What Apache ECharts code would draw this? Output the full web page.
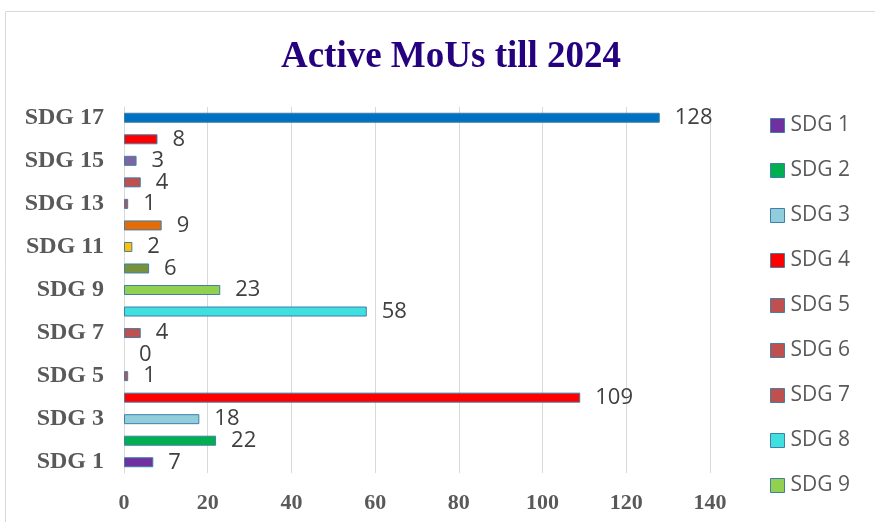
<!DOCTYPE html>
<html><head><meta charset="utf-8">
<script src="https://cdn.jsdelivr.net/npm/echarts@6/dist/echarts.min.js"></script>
<style>html,body{margin:0;padding:0;background:#fff}#c{width:875px;height:522px}</style>
</head><body><div id="c"></div>
<script>
const categories = ['SDG 1','SDG 2','SDG 3','SDG 4','SDG 5','SDG 6','SDG 7','SDG 8','SDG 9','SDG 10','SDG 11','SDG 12','SDG 13','SDG 14','SDG 15','SDG 16','SDG 17'];
const values = [7,22,18,109,1,0,4,58,23,6,2,9,1,4,3,8,128];
const xTicks = [0,20,40,60,80,100,120,140];
const legendNames = ['SDG 1','SDG 2','SDG 3','SDG 4','SDG 5','SDG 6','SDG 7','SDG 8','SDG 9'];
const colors = ['#7030a0','#00b050','#92cddc','#ff0000','#c0504d','#c0504d','#c0504d','#40e0e0','#92d050','#76923c','#ffc000','#e36c09','#c0504d','#c0504d','#8064a2','#ff0000','#0070c0'];

const series = categories.map((name, i) => ({
  name: name,
  type: 'bar',
  stack: 'all',
  barWidth: 10,
  data: categories.map((c, j) => j === i ? values[i] : null),
  itemStyle: { color: colors[i], borderColor: '#3f7fa8', borderWidth: values[i] === 0 ? 0 : 1 },
  label: { show: true, position: 'right', distance: 15, fontFamily: 'Open Sans', fontSize: 22, color: '#404040' }
}));

const chart = echarts.init(document.getElementById('c'), null, {renderer: 'canvas'});
chart.setOption({
  animation: false,
  graphic: [{ type: 'rect', shape: { x: 5.5, y: 11.5, width: 900, height: 600 }, style: { fill: 'none', stroke: '#d9d9d9', lineWidth: 1 }, z: -1 }],
  title: { text: 'Active MoUs till 2024', left: 446, top: 34, textAlign: 'center',
    textStyle: { fontFamily: 'Liberation Serif', fontWeight: 'bold', fontSize: 37, color: '#25007f' } },
  legend: {
    data: legendNames, orient: 'vertical', left: 770, top: 115, padding: 0, itemWidth: 14, itemHeight: 14, itemGap: 24,
    icon: 'rect', itemStyle: { borderColor: '#3f7fa8', borderWidth: 1 },
    textStyle: { fontFamily: 'Open Sans', fontSize: 21, color: '#595959', padding: [0,0,0,1] }
  },
  grid: { left: 124, right: 165, top: 107, bottom: 49 },
  xAxis: {
    type: 'value', min: 0, max: 140, interval: 20,
    axisLine: { show: false }, axisTick: { show: false },
    splitLine: { lineStyle: { color: '#d9d9d9', width: 1 } },
    axisLabel: { margin: 19, fontFamily: 'Liberation Serif', fontWeight: 'bold', fontSize: 22, color: '#595959',
      formatter: v => xTicks.includes(v) ? String(v) : '' }
  },
  yAxis: {
    type: 'category', data: categories,
    axisLine: { show: true, lineStyle: { color: '#d9d9d9' } }, axisTick: { show: false },
    axisLabel: { interval: 1, margin: 20, fontFamily: 'Liberation Serif', fontWeight: 'bold', fontSize: 24, color: '#595959' }
  },
  series: series
});
</script></body></html>
